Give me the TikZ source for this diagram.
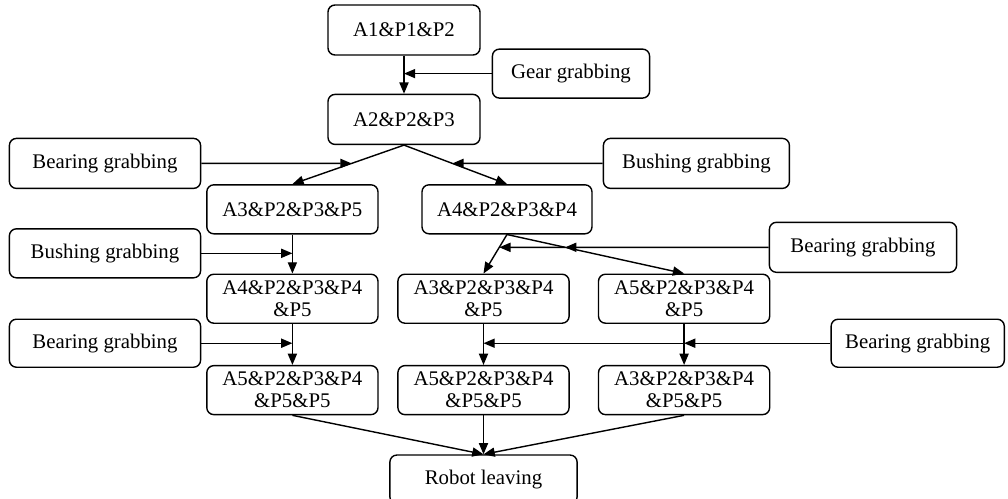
\documentclass[tikz,border=0pt]{standalone}
\usepackage{fontspec}
\setmainfont{Liberation Serif}
\usepackage{tikz}
\usetikzlibrary{positioning, arrows.meta}

\begin{document}
\begin{tikzpicture}[
    node distance=0.95cm, % gap between the stacked states
    state/.style={
        rectangle,
        draw=black,
        rounded corners=5pt,
        line width=1pt,
        align=center,
        minimum width=4.28cm,
        minimum height=1.225cm,
        inner sep=2pt,
        font=\fontsize{14.8}{15.6}\selectfont
    },
    action/.style={
        state,
        minimum width=4.78cm,
        minimum height=1.25cm
    },
    arrow/.style={
        -{Triangle[length=8pt,width=6.5pt]},
        line width=1pt
    }
]
\useasboundingbox (-10.1,0.75) rectangle (15.1,-11.725);

% Start states
\node[state, minimum width=3.8cm, minimum height=1.25cm] (a1) {A1\&P1\&P2};
\node[state, minimum width=3.8cm, minimum height=1.25cm, below=of a1] (a2) {A2\&P2\&P3};
\node[action, minimum width=3.93cm, minimum height=1.225cm, right=0.275cm of a1, yshift=-1.09cm] (gear) {Gear grabbing};

% First choice
\node[action, left=3.15cm of a2, yshift=-1.1cm] (bearing1) {Bearing grabbing};
\node[action, minimum width=4.65cm, right=3.05cm of a2, yshift=-1.1cm] (bushing1) {Bushing grabbing};
\node[state, below=0.975cm of a2, xshift=-2.79cm] (a3) {A3\&P2\&P3\&P5};
\node[state, minimum width=4.25cm, below=0.975cm of a2, xshift=2.575cm] (a4) {A4\&P2\&P3\&P4};

% Left branch
\node[action, minimum height=1.225cm, below=0.975cm of bearing1] (bushing2) {Bushing grabbing};
\node[state, below=0.975cm of a3] (a4b) {A4\&P2\&P3\&P4\\\&P5};
\node[action, minimum height=1.2cm, below=1cm of bushing2] (bearing2) {Bearing grabbing};
\node[state, below=1.025cm of a4b] (a5b) {A5\&P2\&P3\&P4\\\&P5\&P5};

% Right branch
\node[state, below=0.975cm of a4, xshift=-0.5875cm] (a3c) {A3\&P2\&P3\&P4\\\&P5};
\node[state, right=0.7cm of a3c] (a5c) {A5\&P2\&P3\&P4\\\&P5};
\node[action, minimum width=4.68cm, right=4.4cm of a4, yshift=-0.95cm] (bearing3) {Bearing grabbing};
\node[action, minimum width=4.33cm, minimum height=1.2cm, right=1.5cm of a5c, yshift=-1.1125cm] (bearing4) {Bearing grabbing};
\node[state, below=1.025cm of a3c] (a5d) {A5\&P2\&P3\&P4\\\&P5\&P5};
\node[state, below=1.025cm of a5c] (a3d) {A3\&P2\&P3\&P4\\\&P5\&P5};

% End
\node[action, minimum width=4.68cm, minimum height=1.225cm, below=0.975cm of a5d] (robot) {Robot leaving};

% Junctions on the slanted arrows
\coordinate (h1) at (bearing3.west -| a1);
\coordinate (j1) at (intersection of a2.south--a3.north and bearing1.east--bushing1.west);
\coordinate (j2) at (intersection of a2.south--a4.north and bearing1.east--bushing1.west);
\coordinate (j3) at (intersection of a4.south--a5c.north and bearing3.west--h1);
\coordinate (j4) at (intersection of a4.south--a3c.north and bearing3.west--h1);

% Arrows
\draw[arrow] (a1) -- (a2);
\draw[arrow] (gear.west) -- (gear.west -| a1);
\draw[arrow] (a2.south) -- (a3.north);
\draw[arrow] (a2.south) -- (a4.north);
\draw[arrow] (bearing1.east) -- (j1);
\draw[arrow] (bushing1.west) -- (j2);
\draw[arrow] (a3) -- (a4b);
\draw[arrow] (bushing2.east) -- (bushing2.east -| a3);
\draw[arrow] (a4b) -- (a5b);
\draw[arrow] (bearing2.east) -- (bearing2.east -| a4b);
\draw[arrow] (a4.south) -- (a3c.north);
\draw[arrow] (a4.south) -- (a5c.north);
\draw[arrow] (bearing3.west) -- (j3);
\draw[arrow] (j3) -- (j4);
\draw[arrow] (a3c) -- (a5d);
\draw[arrow] (a5c) -- (a3d);
\draw[arrow] (bearing4.west) -- (bearing4.west -| a5c);
\draw[arrow] (bearing4.west -| a5c) -- (bearing4.west -| a3c);
\draw[arrow] (a5b.south) -- (robot.north);
\draw[arrow] (a5d.south) -- (robot.north);
\draw[arrow] (a3d.south) -- (robot.north);

\end{tikzpicture}
\end{document}
